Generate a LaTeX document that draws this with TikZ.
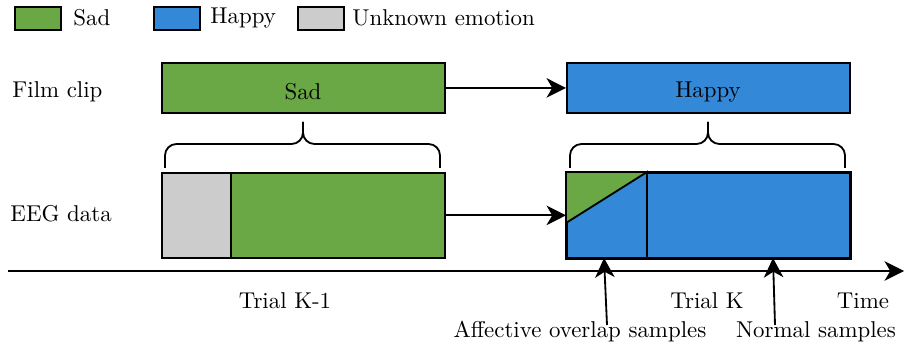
\documentclass[tikz,border=0pt]{standalone}
\usetikzlibrary{arrows.meta}
\definecolor{sadgreen}{RGB}{106,168,69}
\definecolor{happyblue}{RGB}{51,137,216}
\definecolor{unkgray}{RGB}{204,204,204}
\tikzset{
  emobox/.style={draw=black, thick, inner sep=0pt, anchor=north west},
  legbox/.style={emobox, minimum width=20.1pt, minimum height=10pt},
  arr/.style={thick, -{Stealth[length=8.5pt,width=8.5pt,inset=2.5pt]}},
  lbl/.style={inner sep=0pt},
  curly/.style={thick, rounded corners=5pt}
}
\begin{document}
\begin{tikzpicture}[x=0.437pt, y=-0.437pt]
\useasboundingbox (0,0) rectangle (904,345);

% legend
\node[legbox, fill=sadgreen] (legsad) at (14,6) {};
\node[lbl, anchor=west] (legsadtxt) at (73,18) {Sad};
\node[legbox, fill=happyblue] (leghap) at (153,6) {};
\node[lbl, anchor=west] (leghaptxt) at (210,18) {Happy};
\node[legbox, fill=unkgray] (legunk) at (297,6) {};
\node[lbl, anchor=west] (legunktxt) at (352,18) {Unknown emotion};

% film clips
\node[lbl, anchor=west] (filmtxt) at (12,92) {Film clip};
\node[emobox, fill=sadgreen, minimum width=123.7pt, minimum height=21.85pt] (filmsad) at (161,62) {};
\node[lbl] at (303,92) {Sad};
\node[emobox, fill=happyblue, minimum width=123.7pt, minimum height=21.85pt] (filmhap) at (566,62) {};
\node[lbl] at (708,92) {Happy};
\draw[arr] (filmsad.east) -- (filmhap.west);

% braces
\coordinate (bracel) at (303,144);
\draw[curly] (165,168) |- (bracel) -- (303,122);
\draw[curly] (440,168) |- (bracel) -- (303,122);
\coordinate (bracer) at (708,144);
\draw[curly] (570,168) |- (bracer) -- (708,122);
\draw[curly] (845,168) |- (bracer) -- (708,122);

% EEG data
\node[lbl, anchor=west] (eegtxt) at (10,214) {EEG data};
\node[emobox, fill=unkgray, minimum width=30.2pt, minimum height=37.1pt] (eegunk) at (161,172) {};
\node[emobox, fill=sadgreen, minimum width=93.5pt, minimum height=37.1pt] (eegsad) at (230,172) {};
\node[emobox, fill=happyblue, minimum width=123.7pt, minimum height=37.1pt] (eeghap) at (566,172) {};
\coordinate (ovltop) at (647,172);
\coordinate (ovlside) at (566,223);
\fill[sadgreen] (eeghap.north west) -- (ovltop) -- (ovlside) -- cycle;
\draw[thick] (ovlside) -- (ovltop) -- (ovltop |- eeghap.south);
\draw[thick] (eeghap.north west) rectangle (eeghap.south east);
\draw[arr] (eegsad.east) -- (eeghap.west);

% time axis
\coordinate (tstart) at (8,271);
\coordinate (tend) at (904,271);
\draw[arr] (tstart) -- (tend);
\node[lbl] (trialprev) at (285,301) {Trial K-1};
\node[lbl] (trialk) at (707,301) {Trial K};
\node[lbl] (timetxt) at (863,301) {Time};

% samples
\node[lbl] (afftxt) at (580,332) {Affective overlap samples};
\node[lbl] (normtxt) at (816,332) {Normal samples};
\coordinate (affbot) at (607,325);
\coordinate (afftip) at (604,258);
\coordinate (normbot) at (775,325);
\coordinate (normtip) at (773,258);
\draw[arr] (affbot) -- (afftip);
\draw[arr] (normbot) -- (normtip);
\end{tikzpicture}
\end{document}
